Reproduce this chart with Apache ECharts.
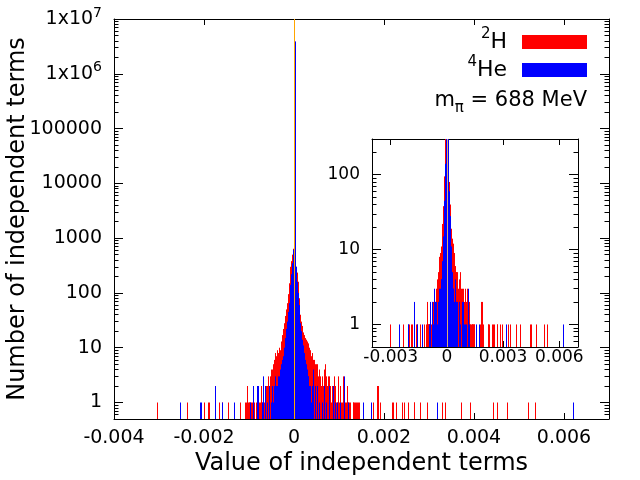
<!DOCTYPE html>
<html>
<head>
<meta charset="utf-8">
<script src="https://cdn.jsdelivr.net/npm/echarts@6/dist/echarts.min.js"></script>
<style>
  html, body { margin: 0; padding: 0; background: #fff; }
  #chart { width: 640px; height: 480px; }
</style>
</head>
<body>
<div id="chart"></div>
<script>
// Histogram of independent terms: [value, count]
const h2Counts = [
    [-0.00305, 1], [-0.00237, 1], [-0.00200, 1], [-0.00192, 1], [-0.00189, 1],
    [-0.00166, 1], [-0.00159, 1], [-0.00146, 1], [-0.00121, 1],
    [-0.00109, 1], [-0.00107, 1], [-0.00105, 2], [-0.00103, 1], [-0.00101, 1],
    [-0.00099, 1], [-0.00097, 1], [-0.00095, 1], [-0.00093, 1], [-0.00089, 1],
    [-0.00085, 1], [-0.00080, 1], [-0.00078, 1], [-0.00076, 1], [-0.00074, 2],
    [-0.00072, 1], [-0.00070, 2], [-0.00068, 2], [-0.00066, 1], [-0.00064, 2],
    [-0.00062, 2], [-0.00060, 2], [-0.00058, 3], [-0.00056, 2], [-0.00054, 3],
    [-0.00052, 4], [-0.00050, 3], [-0.00048, 4], [-0.00046, 5], [-0.00044, 6],
    [-0.00042, 8], [-0.00040, 7], [-0.00038, 9], [-0.00036, 8], [-0.00034, 10],
    [-0.00032, 9], [-0.00030, 11], [-0.00028, 13], [-0.00026, 17], [-0.00024, 22],
    [-0.00022, 28], [-0.00020, 38], [-0.00018, 50], [-0.00016, 65], [-0.00014, 95],
    [-0.00012, 150], [-0.00010, 235], [-0.00008, 300], [-0.00006, 380], [-0.00004, 500],
    [-0.00002, 640],
    [0.00002, 420], [0.00004, 300], [0.00006, 235], [0.00008, 160], [0.00010, 80],
    [0.00012, 55], [0.00014, 40], [0.00016, 30], [0.00018, 25], [0.00020, 19],
    [0.00022, 17], [0.00024, 15], [0.00026, 14], [0.00028, 13], [0.00030, 12],
    [0.00032, 10], [0.00034, 10], [0.00036, 9], [0.00038, 7], [0.00040, 8],
    [0.00042, 6], [0.00044, 6], [0.00046, 5], [0.00048, 5], [0.00050, 4],
    [0.00052, 5], [0.00054, 3], [0.00056, 4], [0.00058, 3], [0.00060, 2],
    [0.00062, 3], [0.00064, 2], [0.00066, 4], [0.00068, 5], [0.00070, 3],
    [0.00072, 2], [0.00074, 2], [0.00076, 3], [0.00078, 3], [0.00080, 2],
    [0.00082, 1], [0.00084, 2], [0.00086, 1], [0.00088, 3], [0.00090, 1],
    [0.00092, 2], [0.00094, 1], [0.00096, 1], [0.00098, 3], [0.00100, 1],
    [0.00102, 2], [0.00104, 1], [0.00106, 1], [0.00108, 3], [0.00110, 1],
    [0.00112, 2], [0.00114, 1], [0.00116, 1], [0.00118, 2], [0.00120, 1],
    [0.00122, 1], [0.00124, 1],
    [0.00130, 1], [0.00132, 1], [0.00134, 1], [0.00136, 1], [0.00138, 1],
    [0.00140, 1], [0.00142, 1], [0.00144, 1],
    [0.00175, 1], [0.00184, 2], [0.00186, 2], [0.00191, 1], [0.00217, 1],
    [0.00221, 1], [0.00227, 1], [0.00239, 1], [0.00244, 1], [0.00253, 1],
    [0.00266, 1], [0.00267, 1], [0.00281, 1], [0.00296, 1], [0.00328, 1],
    [0.00335, 1], [0.00370, 1], [0.00392, 1], [0.00443, 1], [0.00450, 1],
    [0.00474, 1], [0.00521, 1], [0.00536, 1]
];

const he4Counts = [
    [-0.00254, 1], [-0.00209, 1], [-0.00207, 1], [-0.00175, 2], [-0.00160, 1],
    [-0.00133, 1], [-0.00097, 1], [-0.00091, 2], [-0.00082, 2], [-0.00080, 2],
    [-0.00072, 1], [-0.00068, 3], [-0.00064, 2], [-0.00060, 1], [-0.00056, 2],
    [-0.00052, 1], [-0.00050, 1], [-0.00048, 2], [-0.00046, 1], [-0.00044, 2],
    [-0.00042, 3], [-0.00040, 2], [-0.00038, 2], [-0.00036, 3], [-0.00034, 3],
    [-0.00032, 4], [-0.00030, 4], [-0.00028, 5], [-0.00026, 6], [-0.00024, 7],
    [-0.00022, 10], [-0.00020, 15], [-0.00018, 22], [-0.00016, 30], [-0.00014, 45],
    [-0.00012, 65], [-0.00010, 100], [-0.00008, 140], [-0.00006, 220], [-0.00004, 350],
    [-0.00002, 620],
    [0.00002, 3900000], [0.00004, 300], [0.00006, 160], [0.00008, 100], [0.00010, 60],
    [0.00012, 35], [0.00014, 28], [0.00016, 20], [0.00018, 14], [0.00020, 11],
    [0.00022, 8], [0.00024, 6], [0.00026, 5], [0.00028, 4], [0.00030, 3],
    [0.00032, 3], [0.00034, 2], [0.00036, 2], [0.00038, 1], [0.00040, 2],
    [0.00042, 4], [0.00046, 2], [0.00052, 2], [0.00056, 1], [0.00062, 1],
    [0.00066, 2], [0.00072, 1], [0.00078, 2], [0.00086, 2], [0.00090, 1],
    [0.00096, 1], [0.00102, 1], [0.00112, 3], [0.00120, 1],
    [0.00153, 1], [0.00171, 1], [0.00317, 1], [0.00621, 1]
];

// axis ranges and tick labels
const xRange = [-0.004, 0.007];
const mainYRange = [0.5, 1e7];
const insetYRange = [0.5, 300];
const mainXStep = 0.002;
const insetXTicks = [-0.003, 0, 0.003, 0.006];
// vertical marker at zero, running the full height of each panel
const zeroMain = [[0, mainYRange[1]]];
const zeroInset = [[0, insetYRange[1]]];

const BLACK = '#000';
const FONT = 'DejaVu Sans';

// gnuplot-style impulse: 1px vertical line from the panel floor up to the count
function impulse(params, api) {
    const cs = params.coordSys;
    const p = api.coord([api.value(0), api.value(1)]);
    const x = Math.round(p[0]) + 0.5;
    return {
        type: 'line',
        shape: { x1: x, y1: cs.y + cs.height, x2: x, y2: Math.max(p[1], cs.y) },
        style: { stroke: api.visual('color'), lineWidth: 1 }
    };
}

function fmtX(v) {
    return String(+v.toFixed(4));
}

function fmtY(v) {
    const e = Math.round(Math.log10(v));
    return e >= 6 ? '{n|1x10}{sup|' + e + '}' : '{n|' + Math.round(v) + '}';
}

function xAxis(grid, position, fontSize, margin, extra) {
    return Object.assign({
        type: 'value', gridIndex: grid, position: position,
        min: xRange[0], max: xRange[1],
        axisLine: { show: true, onZero: false, lineStyle: { color: BLACK, width: 1 } },
        axisTick: { show: true, inside: true, length: 6, lineStyle: { color: BLACK } },
        splitLine: { show: false },
        axisLabel: {
            show: position === 'bottom', color: BLACK, fontSize: fontSize, margin: margin,
            fontFamily: FONT, showMinLabel: true, showMaxLabel: false, formatter: fmtX
        }
    }, extra);
}

function yAxis(grid, position, range, fontSize, showMax, extra) {
    return Object.assign({
        type: 'log', logBase: 10, gridIndex: grid, position: position,
        min: range[0], max: range[1],
        axisLine: { show: true, onZero: false, lineStyle: { color: BLACK, width: 1 } },
        axisTick: { show: true, inside: true, length: 9, lineStyle: { color: BLACK } },
        minorTick: { show: true, splitNumber: 9, length: 4.5, lineStyle: { color: BLACK } },
        splitLine: { show: false },
        minorSplitLine: { show: false },
        axisLabel: {
            show: position === 'left', color: BLACK, fontSize: fontSize, margin: 12,
            fontFamily: FONT, lineHeight: 26, showMinLabel: false, showMaxLabel: showMax,
            formatter: fmtY,
            rich: {
                n: { fontSize: fontSize, lineHeight: 26, color: BLACK, fontFamily: FONT },
                sup: { fontSize: 14, lineHeight: 17, verticalAlign: 'top', color: BLACK, fontFamily: FONT }
            }
        }
    }, extra);
}

function legendFor(name, top, text) {
    return {
        data: [name], orient: 'vertical', align: 'right', right: 53, top: top, padding: 0,
        icon: 'rect', itemWidth: 65, itemHeight: 14, selectedMode: false,
        formatter: () => text,
        textStyle: {
            rich: {
                sup: { fontSize: 15, lineHeight: 17, verticalAlign: 'top', color: BLACK, fontFamily: FONT },
                b: { fontSize: 22, lineHeight: 30, color: BLACK, fontFamily: FONT, padding: [0, 10, 0, 0] }
            }
        }
    };
}

const chart = echarts.init(document.getElementById('chart'));

chart.setOption({
    animation: false,
    backgroundColor: '#fff',
    textStyle: { fontFamily: FONT, color: BLACK },
    grid: [
        { left: 114, top: 19, right: 31, bottom: 61, containLabel: false, outerBoundsMode: 'none' },
        { left: 372, top: 139, width: 206, height: 208, containLabel: false, outerBoundsMode: 'none' }
    ],
    xAxis: [
        xAxis(0, 'bottom', 19, 10, {
            interval: mainXStep,
            name: 'Value of independent terms', nameLocation: 'middle', nameGap: 33,
            nameMoveOverlap: false,
            nameTextStyle: { fontSize: 24, color: BLACK, fontFamily: FONT }
        }),
        xAxis(0, 'top', 19, 10, { interval: mainXStep }),
        xAxis(1, 'bottom', 17, 2, {
            axisTick: { show: true, inside: true, length: 6, lineStyle: { color: BLACK }, customValues: insetXTicks },
            axisLabel: {
                show: true, color: BLACK, fontSize: 17, margin: 2, fontFamily: FONT,
                formatter: fmtX, customValues: insetXTicks
            }
        }),
        xAxis(1, 'top', 17, 2, {
            axisTick: { show: true, inside: true, length: 6, lineStyle: { color: BLACK }, customValues: insetXTicks }
        })
    ],
    yAxis: [
        yAxis(0, 'left', mainYRange, 19, true, {
            name: 'Number of independent terms', nameLocation: 'middle', nameGap: 84,
            nameMoveOverlap: false,
            nameTextStyle: { fontSize: 24, color: BLACK, fontFamily: FONT }
        }),
        yAxis(0, 'right', mainYRange, 19, true),
        yAxis(1, 'left', insetYRange, 17, false),
        yAxis(1, 'right', insetYRange, 17, false)
    ],
    legend: [
        legendFor('H2', 27, '{sup|2}{b|H}'),
        legendFor('He4', 55, '{sup|4}{b|He}')
    ],
    graphic: [{
        type: 'text', right: 53, top: 90,
        style: {
            text: '{a|m}{s|π}{a| = 688 MeV}',
            rich: {
                a: { fontSize: 21, lineHeight: 30, fill: BLACK, fontFamily: FONT },
                s: { fontSize: 15, lineHeight: 14, verticalAlign: 'bottom', fill: BLACK, fontFamily: FONT }
            }
        }
    }],
    series: [
        {
            name: 'H2', type: 'custom', xAxisIndex: 0, yAxisIndex: 0, z: 2,
            renderItem: impulse, itemStyle: { color: '#ff0000' }, data: h2Counts, silent: true
        },
        {
            name: 'He4', type: 'custom', xAxisIndex: 0, yAxisIndex: 0, z: 3,
            renderItem: impulse, itemStyle: { color: '#0000ff' }, data: he4Counts, silent: true
        },
        {
            name: 'zero', type: 'custom', xAxisIndex: 0, yAxisIndex: 0, z: 4,
            renderItem: impulse, itemStyle: { color: '#ffa500' }, data: zeroMain, silent: true
        },
        {
            name: 'H2', type: 'custom', xAxisIndex: 2, yAxisIndex: 2, z: 2,
            renderItem: impulse, itemStyle: { color: '#ff0000' }, data: h2Counts, silent: true
        },
        {
            name: 'He4', type: 'custom', xAxisIndex: 2, yAxisIndex: 2, z: 3,
            renderItem: impulse, itemStyle: { color: '#0000ff' }, data: he4Counts, silent: true
        },
        {
            name: 'zero', type: 'custom', xAxisIndex: 2, yAxisIndex: 2, z: 4,
            renderItem: impulse, itemStyle: { color: '#e0aa70' }, data: zeroInset, silent: true
        }
    ]
});
</script>
</body>
</html>
